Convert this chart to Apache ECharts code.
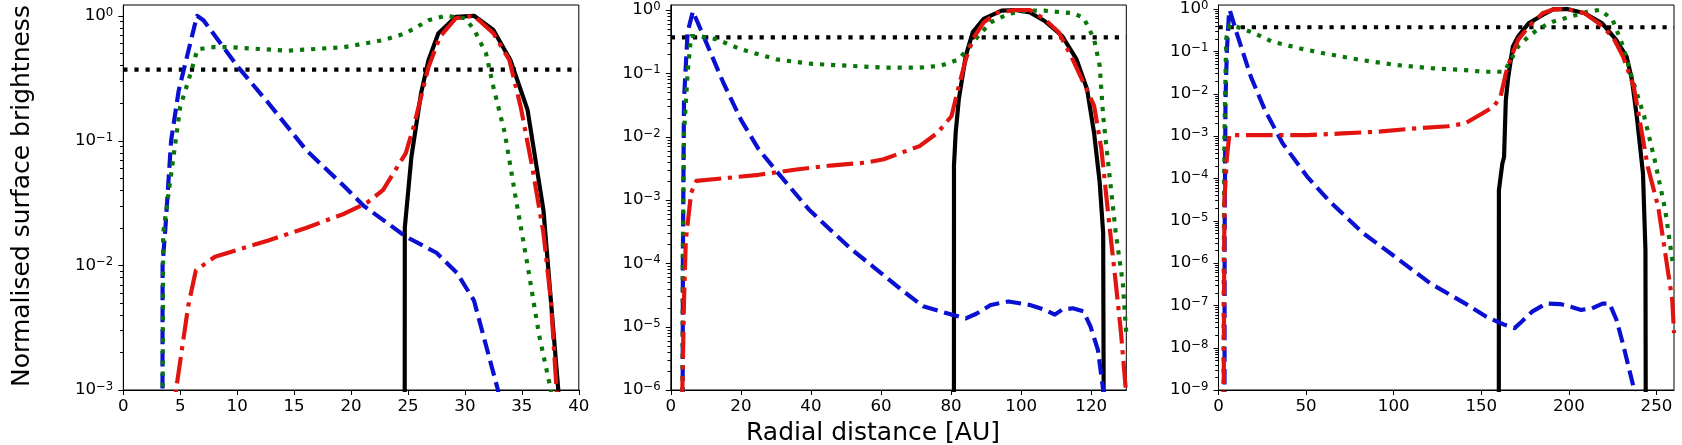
<!DOCTYPE html>
<html><head><meta charset="utf-8">
<script src="https://cdn.jsdelivr.net/npm/echarts@6/dist/echarts.min.js"></script>
<style>html,body{margin:0;padding:0;background:#fff}#c{width:1682px;height:445px}</style>
</head><body><div id="c"></div>
<script>
// ---- axis limits and ticks ----
const xLimits = [[0, 40], [0, 130], [0, 260]];
const xTicks1 = [0, 5, 10, 15, 20, 25, 30, 35, 40];
const xTicks2 = [0, 20, 40, 60, 80, 100, 120];
const xTicks3 = [0, 50, 100, 150, 200, 250];
const yMins = [1e-3, 1e-6, 1e-9];
const yMaxs = [1.22, 1.2, 1.24];
const yDecades1 = [-3, -2, -1, 0];
const yDecades2 = [-6, -5, -4, -3, -2, -1, 0];
const yDecades3 = [-9, -8, -7, -6, -5, -4, -3, -2, -1, 0];
const minorMultipliers = [2, 3, 4, 5, 6, 7, 8, 9];
const threshold = 0.37;

// ---- panel 1 (0-40 AU) ----
const solid1 = [[24.7,1e-6],[24.72,0.020],[25.3,0.074],[26.15,0.24],[26.8,0.44],[27.66,0.72],[29.2,0.98],[30.8,1.0],[32.5,0.77],[34.0,0.44],[35.5,0.176],[36.9,0.0275],[37.55,0.0052],[38.2,0.001],[38.4,1e-5]];
const dashed1 = [[3.42,1e-6],[3.45,0.0102],[3.7,0.020],[4.2,0.10],[4.86,0.25],[6.47,1.0],[7.04,0.92],[10.06,0.39],[12.74,0.20],[16.1,0.083],[19.4,0.043],[21.1,0.030],[24.8,0.017],[27.5,0.0126],[29.3,0.0087],[30.8,0.0052],[32.9,0.001],[33.3,5e-4]];
const dotted1 = [[3.40,1e-6],[3.42,1e-4],[3.5,0.018],[4.36,0.069],[5.0,0.186],[6.0,0.367],[6.5,0.537],[7.7,0.56],[9.4,0.56],[14.4,0.525],[19.4,0.56],[22.8,0.638],[24.8,0.724],[26.8,0.92],[28.3,1.0],[30.0,0.955],[30.8,0.776],[31.85,0.50],[32.5,0.269],[33.5,0.115],[34.5,0.033],[35.5,0.01],[36.5,0.0028],[37.55,0.001],[37.8,5e-4]];
const dashdot1 = [[4.5,5e-4],[4.63,0.001],[5.7,0.0047],[6.37,0.0091],[8.05,0.0117],[12.74,0.0158],[16.1,0.020],[19.45,0.026],[21.46,0.032],[22.8,0.040],[24.8,0.079],[25.5,0.129],[26.15,0.224],[26.8,0.389],[27.8,0.676],[29.2,0.955],[30.8,1.0],[32.5,0.724],[33.9,0.442],[34.9,0.186],[35.9,0.062],[36.9,0.018],[37.55,0.0052],[38.05,0.001],[38.2,5e-4]];

// ---- panel 2 (0-130 AU) ----
const solid2 = [[80.8,1e-9],[80.82,0.0035],[81.3,0.0115],[82.2,0.039],[84.2,0.191],[86.2,0.447],[89.3,0.724],[94.4,0.977],[98.4,1.0],[102.5,0.912],[106.6,0.676],[111.7,0.389],[115.8,0.166],[118.8,0.056],[120.8,0.0115],[122.4,0.0019],[123.4,3.0e-4],[123.7,1e-9]];
const dashed2 = [[3.3,1e-9],[3.45,1e-4],[3.56,1e-3],[3.77,0.039],[4.8,0.447],[6.3,0.95],[8.86,0.447],[15,0.071],[20,0.0186],[25.1,0.0063],[31.3,0.0024],[39.4,7.1e-4],[45.5,3.4e-4],[51.6,1.66e-4],[57.7,8.9e-5],[65.9,3.8e-5],[72,2.1e-5],[80.1,1.55e-5],[84.2,1.35e-5],[87.2,1.6e-5],[91.3,2.2e-5],[96.4,2.5e-5],[102.5,2.2e-5],[106.6,1.86e-5],[109.6,1.55e-5],[111.7,1.86e-5],[114.7,1.95e-5],[117.8,1.74e-5],[119.8,1e-5],[121.9,4.3e-6],[123.4,1e-6],[123.6,1e-8]];
const dotted2 = [[3.26,1e-9],[3.4,1e-4],[3.77,0.0115],[4.8,0.102],[5.8,0.389],[7.8,0.389],[12.9,0.347],[20,0.240],[30.2,0.166],[40.4,0.141],[50.6,0.132],[60.8,0.123],[71,0.123],[77,0.132],[82.2,0.166],[86.2,0.309],[91.3,0.638],[96.4,0.871],[101.5,0.977],[106.6,0.977],[114.7,0.891],[117.8,0.759],[120.8,0.347],[122.4,0.132],[123.4,0.021],[124.9,0.0035],[127,3.0e-4],[129,4.9e-5],[129.8,1.1e-5],[130,8e-6]];
const dashdot2 = [[3.26,1e-9],[3.3,1e-6],[3.77,2.6e-5],[4.28,2.3e-4],[5.8,0.0013],[7.3,0.0020],[15,0.0022],[25.1,0.0025],[35.3,0.0030],[45.5,0.0035],[55.7,0.0039],[60.8,0.0044],[65.9,0.0056],[71,0.0071],[76.1,0.0115],[80.1,0.021],[82.2,0.063],[84.2,0.166],[86.2,0.347],[89.3,0.638],[93.3,0.912],[98.4,1.0],[102.5,1.0],[106.6,0.724],[110.7,0.447],[114.7,0.166],[117.8,0.071],[120.8,0.031],[122.9,0.0063],[124.9,5.5e-4],[127,4.9e-5],[128.5,7.9e-6],[129.8,1.1e-6],[130,8e-7]];

// ---- panel 3 (0-260 AU) ----
const solid3 = [[160,1e-12],[160.05,5.2e-5],[162,2.2e-4],[163,3.2e-4],[164,0.0071],[165.4,0.025],[168,0.129],[171,0.224],[177,0.457],[185,0.724],[191,0.977],[199,1.0],[209,0.794],[219,0.457],[227,0.186],[233,0.074],[236,0.021],[239,0.0024],[242.3,1.3e-4],[243.7,2e-6],[244,1e-12]];
const dashed3 = [[3.4,1e-12],[3.5,5e-6],[4,0.0071],[4.8,0.107],[6.0,0.794],[6.4,0.95],[10.4,0.269],[18.5,0.025],[26.5,0.0041],[36.5,6.8e-4],[50.6,1.1e-4],[62.6,3.1e-5],[82.7,5e-6],[100.8,1.4e-6],[120.9,3.3e-7],[140.9,1.1e-7],[152.9,5.4e-8],[163,3.5e-8],[169,2.9e-8],[173,4.1e-8],[179,7.1e-8],[187,1.1e-7],[195,1.07e-7],[201,9.3e-8],[207,7.8e-8],[213.2,8.5e-8],[219.2,1.1e-7],[223.2,1.1e-7],[227.2,4.5e-8],[231.3,1.05e-8],[237.3,1e-9],[238,5e-10]];
const dotted3 = [[2.8,1e-12],[3.0,1e-6],[3.4,0.0011],[4.4,0.2],[6.4,0.42],[10.4,0.38],[20.5,0.269],[30.5,0.170],[46.6,0.117],[60.6,0.089],[80.7,0.063],[100.8,0.048],[120.9,0.040],[140.9,0.036],[151,0.033],[163,0.033],[167,0.063],[171,0.129],[177,0.224],[183,0.347],[191,0.501],[201,0.661],[211,0.871],[218,0.955],[225,0.55],[231,0.129],[237,0.0174],[243,0.0029],[249,2.7e-4],[255,1.8e-5],[259,1.2e-6],[260,8e-7]];
const dashdot3 = [[2.8,1e-12],[3.0,1e-9],[3.4,3.2e-5],[4.8,3.2e-4],[6.2,0.00105],[30.5,0.00105],[50.6,0.00105],[70.7,0.00115],[90.7,0.00126],[110.8,0.0015],[130.9,0.0017],[140.9,0.0020],[151,0.0035],[157,0.0049],[161,0.0085],[164,0.030],[167,0.074],[171,0.186],[177,0.380],[185,0.794],[191,0.977],[199,1.0],[209,0.794],[217,0.457],[225,0.224],[231,0.074],[237,0.0148],[241,0.0017],[245,1.9e-4],[251,2.1e-5],[255,1.7e-6],[259,1.35e-7],[260,2.2e-8]];

const xTickSets = [xTicks1, xTicks2, xTicks3];
const yDecadeSets = [yDecades1, yDecades2, yDecades3];
const solidSets = [solid1, solid2, solid3];
const dashedSets = [dashed1, dashed2, dashed3];
const dottedSets = [dotted1, dotted2, dotted3];
const dashdotSets = [dashdot1, dashdot2, dashdot3];

// ---- layout / style ----
const FONT = '"DejaVu Sans", "Liberation Sans", sans-serif';
const gridLefts = [123.3, 670.8, 1218.5];
const LW = 4.17;
const COLORS = { solid: '#000000', dashed: '#0a10d2', dotted: '#0a760a', dashdot: '#e2140f', hline: '#000000' };

const chart = echarts.init(document.getElementById('c'), null, { renderer: 'canvas' });

function supLabel(v) {
  const lg = Math.log10(v);
  const e = Math.round(lg);
  if (Math.abs(lg - e) > 1e-6) return '';
  const s = e < 0 ? '\u2212' + (-e) : String(e);
  return '{b|10}{s|' + s + '}';
}

const grids = [], xAxes = [], yAxes = [], series = [];
for (let i = 0; i < 3; i++) {
  grids.push({ left: gridLefts[i], top: 5, width: 455.5, height: 385, show: true,
    borderColor: '#000', borderWidth: 1, backgroundColor: 'transparent', containLabel: false });
  xAxes.push({
    type: 'value', gridIndex: i, min: xLimits[i][0], max: xLimits[i][1],
    interval: xTickSets[i][1] - xTickSets[i][0],
    axisLine: { show: true, onZero: false, lineStyle: { color: '#000', width: 1 } },
    axisTick: { show: true, length: 5, inside: false, lineStyle: { color: '#000', width: 1 }, customValues: xTickSets[i] },
    axisLabel: { show: true, margin: 8, color: '#000', fontSize: 16.67, fontFamily: FONT, customValues: xTickSets[i] },
    splitLine: { show: false }
  });
  yAxes.push({
    type: 'log', logBase: 10, gridIndex: i, min: yMins[i], max: yMaxs[i],
    axisLine: { show: true, lineStyle: { color: '#000', width: 1 } },
    axisTick: { show: false },
    axisLabel: {
      show: true, margin: 10, showMaxLabel: false, formatter: supLabel,
      rich: {
        b: { fontSize: 16.67, fontFamily: FONT, color: '#000', lineHeight: 18 },
        s: { fontSize: 11.7, fontFamily: FONT, color: '#000', lineHeight: 10, verticalAlign: 'top' }
      }
    },
    splitLine: { show: false }, minorSplitLine: { show: false }
  });

  // y ticks (major + minor) as short marks drawn through the log axis
  const tickData = [];
  const decs = yDecadeSets[i];
  for (const e of decs) {
    tickData.push([xLimits[i][0], Math.pow(10, e), 5]);
  }
  for (let k = 0; k < decs.length; k++) {
    for (const m of minorMultipliers) {
      const v = m * Math.pow(10, decs[k]);
      if (v > yMins[i] && v < yMaxs[i]) tickData.push([xLimits[i][0], v, 3.3]);
    }
  }
  series.push({
    type: 'custom', xAxisIndex: i, yAxisIndex: i, clip: false, silent: true, z: 5,
    data: tickData, encode: { x: 0, y: 1 },
    renderItem: function (params, api) {
      const p = api.coord([api.value(0), api.value(1)]);
      const len = api.value(2);
      const y = Math.round(p[1]) + 0.5;
      return { type: 'line', shape: { x1: p[0] - len, y1: y, x2: p[0], y2: y },
        style: { stroke: '#000', lineWidth: 1 } };
    }
  });

  const common = { type: 'line', xAxisIndex: i, yAxisIndex: i, showSymbol: false, symbol: 'none',
    clip: true, silent: true, animation: false };
  series.push(Object.assign({}, common, { data: [[xLimits[i][0], threshold], [xLimits[i][1], threshold]],
    lineStyle: { color: COLORS.hline, width: LW, type: [4.2, 6.9], cap: 'butt' }, z: 2 }));
  series.push(Object.assign({}, common, { data: solidSets[i],
    lineStyle: { color: COLORS.solid, width: LW, type: 'solid', join: 'round', cap: 'butt' }, z: 3 }));
  series.push(Object.assign({}, common, { data: dashedSets[i],
    lineStyle: { color: COLORS.dashed, width: LW, type: [15.4, 6.7], join: 'round', cap: 'butt' }, z: 4 }));
  series.push(Object.assign({}, common, { data: dottedSets[i],
    lineStyle: { color: COLORS.dotted, width: LW, type: [4.2, 6.9], join: 'round', cap: 'butt' }, z: 5 }));
  series.push(Object.assign({}, common, { data: dashdotSets[i],
    lineStyle: { color: COLORS.dashdot, width: LW, type: [26.7, 6.7, 4.2, 6.7], join: 'round', cap: 'butt' }, z: 6 }));
}

chart.setOption({
  animation: false,
  backgroundColor: '#ffffff',
  grid: grids, xAxis: xAxes, yAxis: yAxes, series: series,
  graphic: [
    { type: 'text', x: 22, y: 196, rotation: Math.PI / 2,
      style: { text: 'Normalised surface brightness', font: '25px ' + FONT, fill: '#000', align: 'center', verticalAlign: 'middle' } },
    { type: 'text', x: 873, y: 433,
      style: { text: 'Radial distance [AU]', font: '25px ' + FONT, fill: '#000', align: 'center', verticalAlign: 'middle' } }
  ]
});
</script>
</body></html>
